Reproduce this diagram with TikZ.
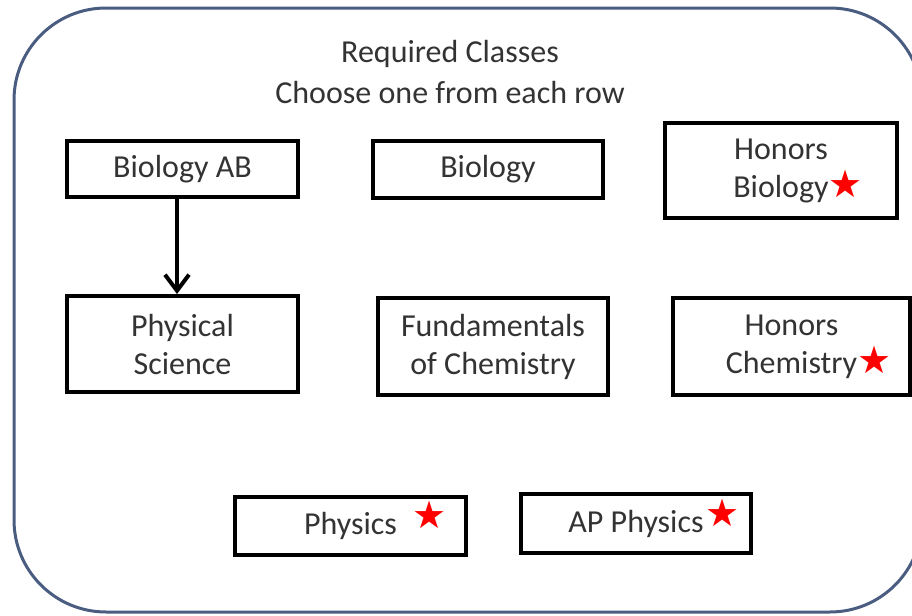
\documentclass[tikz,border=0pt]{standalone}
\usepackage{fontspec}
\usetikzlibrary{arrows.meta}
\setmainfont{Carlito}
\newfontfamily\starfont{DejaVu Sans}
\definecolor{framecol}{HTML}{4A5C80}
\definecolor{txtcol}{HTML}{333333}
\newcommand{\redstar}{{\starfont\fontsize{19}{19}\selectfont\color{red}★}}
\begin{document}
\begin{tikzpicture}[x=0.5pt,y=-0.5pt,
  box/.style={draw=black, line width=2pt, fill=white, align=center,
    font=\fontsize{16}{19}\selectfont, text=txtcol, inner sep=0pt},
  title/.style={font=\fontsize{16}{19}\selectfont, text=txtcol, align=center}]
\useasboundingbox (0,0) rectangle (912,616);
\begin{scope}
\clip (0,0) rectangle (912,616);
\draw[framecol, line width=1.5pt, rounded corners=46pt] (14,8) rectangle (922,612);
\end{scope}
\node[title] (t1) at (450,54) {Required Classes};
\node[title] (t2) at (450,93) {Choose one from each row};
\node[box, minimum width=115.5pt, minimum height=28pt] (bioab) at (182.5,169) {Biology AB};
\node[box, minimum width=115pt, minimum height=28.5pt] (bio) at (488,169.5) {Biology};
\node[box, minimum width=116pt, minimum height=47.5pt] (hbio) at (781,170.5) {Honors\\Biology\rlap{\smash{\redstar}}};
\node[box, minimum width=115.5pt, minimum height=48pt] (phys) at (182.5,344) {Physical\\Science};
\node[box, minimum width=115pt, minimum height=48.5pt] (fchem) at (493,346.5) {Fundamentals\\of Chemistry};
\node[box, minimum width=118.5pt, minimum height=48.5pt] (hchem) at (791.5,346.5) {Honors\\Chemistry\rlap{\smash{\redstar}}};
\node[box, minimum width=115.5pt, minimum height=29pt] (physics) at (350.5,526) {Physics\rlap{\hspace{8pt}\smash{\raisebox{3pt}{\redstar}}}};
\node[box, minimum width=115pt, minimum height=29.5pt] (apphys) at (636,523.5) {AP Physics\rlap{\hspace{1pt}\smash{\raisebox{3pt}{\redstar}}}};
\draw[line width=2pt, -{Straight Barb[length=8pt,width=12pt,line width=2pt]}]
  ([xshift=-2.75pt]bioab.south) -- ([xshift=-2.75pt]phys.north);
\end{tikzpicture}
\end{document}
